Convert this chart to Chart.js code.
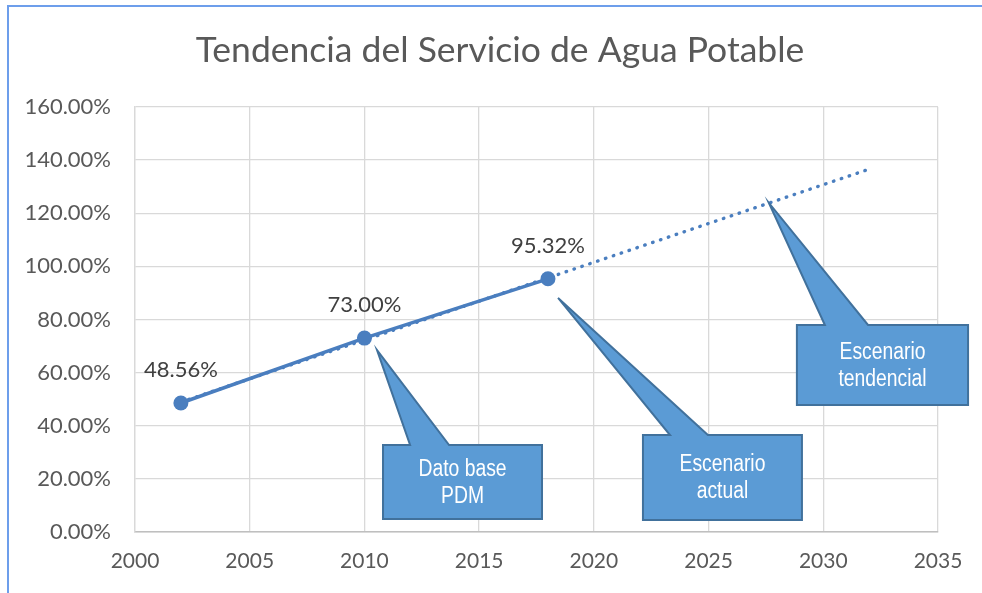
<!DOCTYPE html>
<html><head><meta charset="utf-8">
<script src="https://cdn.jsdelivr.net/npm/chart.js@4/dist/chart.umd.min.js"></script>
<style>html,body{margin:0;padding:0;background:#fff;}#wrap{width:982px;height:593px;position:relative;}</style>
</head><body><div id="wrap"><canvas id="c" width="982" height="593"></canvas></div>
<script>
const chartTitle = 'Tendencia del Servicio de Agua Potable';
const years = [2002, 2010, 2018];
const coverage = [48.56, 73.00, 95.32];
const trendYears = [2002, 2032];
const trendValues = [48.9, 136.6];
const xTicks = [2000, 2005, 2010, 2015, 2020, 2025, 2030, 2035];
const yTicks = [0, 20, 40, 60, 80, 100, 120, 140, 160];
const calloutLines = [['Dato base', 'PDM'], ['Escenario', 'actual'], ['Escenario', 'tendencial']];

// callout geometry, in data units (x: year, y: percent)
const calloutGeom = [
  {box: [2010.81, 32.76, 2017.74, 4.89], base: [2011.99, 2013.69], tip: [2010.55, 68.5]},
  {box: [2022.14, 36.52, 2029.07, 4.52], base: [2023.32, 2024.97], tip: [2018.44, 88.1]},
  {box: [2028.85, 77.94, 2036.31, 47.82], base: [2030.07, 2031.95], tip: [2027.63, 123.87]}
];

const BLUE = '#4a7ebf';
const FONT = 'Lato, "Open Sans", sans-serif';

const decor = {
  id: 'decor',
  afterDraw(chart) {
    const ctx = chart.ctx, xs = chart.scales.x, ys = chart.scales.y;
    ctx.save();
    // frame
    ctx.strokeStyle = '#6d9eeb'; ctx.lineWidth = 2;
    ctx.beginPath(); ctx.moveTo(8, 600); ctx.lineTo(8, 6); ctx.lineTo(990, 6); ctx.stroke();
    // title
    ctx.fillStyle = '#595959'; ctx.font = '35.5px ' + FONT;
    ctx.textAlign = 'center'; ctx.textBaseline = 'middle';
    ctx.fillText(chartTitle, 500, 51);
    // data labels
    const meta = chart.getDatasetMeta(0);
    ctx.fillStyle = '#404040'; ctx.font = '22px ' + FONT;
    meta.data.forEach((pt, i) => {
      ctx.fillText(coverage[i].toFixed(2) + '%', pt.x, pt.y - 33);
    });
    // callouts
    calloutGeom.forEach((g, i) => {
      const x0 = xs.getPixelForValue(g.box[0]), y0 = ys.getPixelForValue(g.box[1]);
      const x1 = xs.getPixelForValue(g.box[2]), y1 = ys.getPixelForValue(g.box[3]);
      const b0 = xs.getPixelForValue(g.base[0]), b1 = xs.getPixelForValue(g.base[1]);
      const tx = xs.getPixelForValue(g.tip[0]), ty = ys.getPixelForValue(g.tip[1]);
      ctx.beginPath();
      ctx.moveTo(x0, y0); ctx.lineTo(b0, y0); ctx.lineTo(tx, ty); ctx.lineTo(b1, y0);
      ctx.lineTo(x1, y0); ctx.lineTo(x1, y1); ctx.lineTo(x0, y1); ctx.closePath();
      ctx.fillStyle = '#5b9bd5'; ctx.fill();
      ctx.strokeStyle = '#41719c'; ctx.lineWidth = 2; ctx.lineJoin = 'miter'; ctx.stroke();
      const cx = (x0 + x1) / 2, cy = (y0 + y1) / 2 + 1;
      ctx.fillStyle = '#ffffff'; ctx.font = '23px "Liberation Sans", Arial, sans-serif';
      const lines = calloutLines[i];
      lines.forEach((t, k) => {
        const ly = cy + (k - (lines.length - 1) / 2) * 27;
        ctx.save(); ctx.translate(cx, ly); ctx.scale(0.84, 1);
        ctx.fillText(t, 0, 0); ctx.restore();
      });
    });
    ctx.restore();
  }
};

new Chart(document.getElementById('c'), {
  type: 'line',
  data: {
    datasets: [
      {
        label: 'Cobertura',
        data: years.map((y, i) => ({x: y, y: coverage[i]})),
        borderColor: BLUE, backgroundColor: BLUE, borderWidth: 3.5,
        pointRadius: 7.5, pointBackgroundColor: BLUE, pointBorderColor: BLUE, pointBorderWidth: 0,
        tension: 0
      },
      {
        label: 'Tendencia',
        data: trendYears.map((y, i) => ({x: y, y: trendValues[i]})),
        borderColor: BLUE, borderWidth: 3.4, borderDash: [0.5, 7.8], borderCapStyle: 'round',
        pointRadius: 0, tension: 0
      }
    ]
  },
  options: {
    responsive: false, animation: false,
    layout: {padding: {left: 0, right: 44, top: 107, bottom: 0}},
    plugins: {legend: {display: false}, title: {display: false}, tooltip: {enabled: false}},
    scales: {
      x: {
        type: 'linear', min: 2000, max: 2035,
        afterBuildTicks: s => { s.ticks = xTicks.map(v => ({value: v})); },
        afterFit: s => { s.height = 61; },
        ticks: {callback: v => String(v), color: '#595959', font: {family: FONT, size: 21}, padding: 17, maxRotation: 0, autoSkip: false},
        grid: {color: '#d9d9d9', lineWidth: 1.3, drawTicks: false},
        border: {color: '#bfbfbf', width: 1.5}
      },
      y: {
        min: 0, max: 160,
        afterBuildTicks: s => { s.ticks = yTicks.map(v => ({value: v})); },
        afterFit: s => { s.width = 135; },
        ticks: {callback: v => v.toFixed(2) + '%', color: '#595959', font: {family: FONT, size: 22}, padding: 24},
        grid: {color: '#d9d9d9', lineWidth: 1.3, drawTicks: false},
        border: {color: '#d9d9d9', width: 1.3}
      }
    }
  },
  plugins: [decor]
});
</script>
</body></html>
